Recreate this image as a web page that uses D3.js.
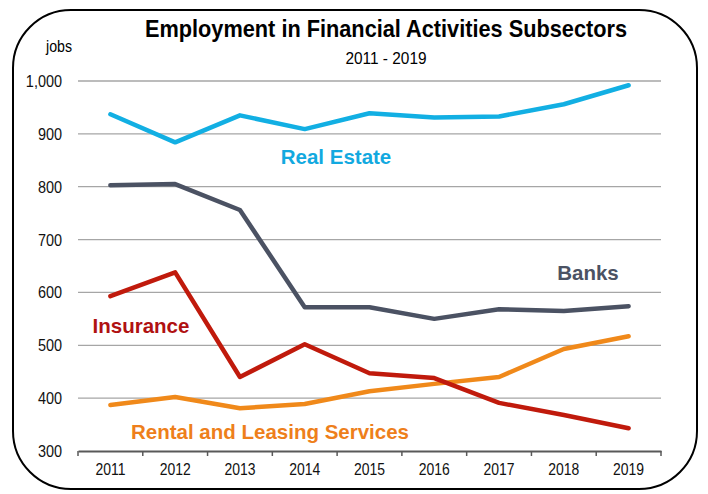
<!DOCTYPE html>
<html>
<head>
<meta charset="utf-8">
<script src="https://cdn.jsdelivr.net/npm/d3@7"></script>
<style>
  body { margin: 0; background: #fff; }
  .tick text { font-family: "Liberation Sans", Arial, sans-serif; font-size: 17px; fill: #111; }
  .grid line { stroke: #a6a6a6; stroke-width: 1.3; }
  .series { fill: none; stroke-width: 4.5; stroke-linejoin: round; stroke-linecap: round; }
  .lbl { font-family: "Liberation Sans", Arial, sans-serif; font-weight: bold; font-size: 20.5px; }
</style>
</head>
<body>
<svg id="chart" width="708" height="494"></svg>
<script>
var years = ["2011","2012","2013","2014","2015","2016","2017","2018","2019"];
var realEstate = [937, 884, 935, 909, 939, 931, 933, 956, 992];
var banks      = [803, 805, 756, 572, 572, 550, 568, 565, 574];
var insurance  = [593, 638, 440, 502, 447, 438, 391, 368, 343];
var rental     = [387, 402, 381, 389, 413, 427, 440, 493, 517];
var yTicks = [300, 400, 500, 600, 700, 800, 900, 1000];

var svg = d3.select("#chart");
var margin = {left: 78, right: 47, top: 81, bottom: 43};
var width = 708 - margin.left - margin.right;
var height = 494 - margin.top - margin.bottom;

// squeeze text to look like a narrow face
function narrow(sel, k) {
  sel.each(function() {
    var w = this.getComputedTextLength();
    d3.select(this).attr("textLength", w * k).attr("lengthAdjust", "spacingAndGlyphs");
  });
}

// rounded frame
svg.append("rect")
  .attr("x", 13).attr("y", 10)
  .attr("width", 684).attr("height", 479)
  .attr("rx", 58).attr("ry", 58)
  .attr("fill", "none").attr("stroke", "#000").attr("stroke-width", 2);

var g = svg.append("g").attr("transform", "translate(" + margin.left + "," + margin.top + ")");

var x = d3.scaleBand().domain(years).range([0, width]);
var y = d3.scaleLinear().domain([300, 1000]).range([height, 0]);

// gridlines
g.append("g").attr("class", "grid")
  .selectAll("line")
  .data(yTicks.filter(function(d) { return d > 300; }))
  .enter().append("line")
  .attr("x1", 0).attr("x2", width)
  .attr("y1", function(d) { return y(d); })
  .attr("y2", function(d) { return y(d); });

var yAxis = g.append("g")
  .call(d3.axisLeft(y).tickValues(yTicks).tickSize(0).tickPadding(16).tickFormat(d3.format(",")));
yAxis.select(".domain").remove();
narrow(yAxis.selectAll(".tick text"), 0.85);

var xAxis = g.append("g")
  .attr("transform", "translate(0," + height + ")")
  .call(d3.axisBottom(x).tickSize(0).tickPadding(12));
xAxis.select(".domain").attr("stroke", "#595959").attr("stroke-width", 2);
narrow(xAxis.selectAll(".tick text"), 0.82);

// tick marks between categories
xAxis.selectAll("line.sep")
  .data(d3.range(years.length + 1))
  .enter().append("line")
  .attr("class", "sep")
  .attr("x1", function(i) { return i * x.step(); })
  .attr("x2", function(i) { return i * x.step(); })
  .attr("y1", 0).attr("y2", 5)
  .attr("stroke", "#595959").attr("stroke-width", 1.5);

var line = d3.line()
  .x(function(d, i) { return x(years[i]) + x.bandwidth() / 2; })
  .y(function(d) { return y(d); });

var series = [
  {values: rental, color: "#f0891a"},
  {values: insurance, color: "#c01a0c"},
  {values: banks, color: "#4b5263"},
  {values: realEstate, color: "#12afe3"}
];

g.selectAll("path.series")
  .data(series)
  .enter().append("path")
  .attr("class", "series")
  .attr("stroke", function(d) { return d.color; })
  .attr("d", function(d) { return line(d.values); });

// series labels
var labels = [
  {text: "Real Estate", color: "#12a9e0", x: 336, y: 164},
  {text: "Banks", color: "#4b5263", x: 588, y: 280},
  {text: "Insurance", color: "#b01111", x: 141, y: 333},
  {text: "Rental and Leasing Services", color: "#ee7f1b", x: 270, y: 439}
];
svg.selectAll("text.lbl")
  .data(labels)
  .enter().append("text")
  .attr("class", "lbl")
  .attr("x", function(d) { return d.x; })
  .attr("y", function(d) { return d.y; })
  .attr("text-anchor", "middle")
  .attr("fill", function(d) { return d.color; })
  .text(function(d) { return d.text; });

// titles
var title = svg.append("text")
  .attr("x", 386).attr("y", 37)
  .attr("text-anchor", "middle")
  .style("font-family", "'Liberation Sans', Arial, sans-serif")
  .style("font-weight", "bold").style("font-size", "24px")
  .text("Employment in Financial Activities Subsectors");
title.attr("textLength", 482).attr("lengthAdjust", "spacingAndGlyphs");

var sub = svg.append("text")
  .attr("x", 386).attr("y", 64)
  .attr("text-anchor", "middle")
  .style("font-family", "'Liberation Sans', Arial, sans-serif")
  .style("font-size", "16px")
  .text("2011 - 2019");
sub.attr("textLength", 81).attr("lengthAdjust", "spacingAndGlyphs");

var jobs = svg.append("text")
  .attr("x", 46).attr("y", 52)
  .style("font-family", "'Liberation Sans', Arial, sans-serif")
  .style("font-size", "16px")
  .text("jobs");
jobs.attr("textLength", 26).attr("lengthAdjust", "spacingAndGlyphs");
</script>
</body>
</html>
